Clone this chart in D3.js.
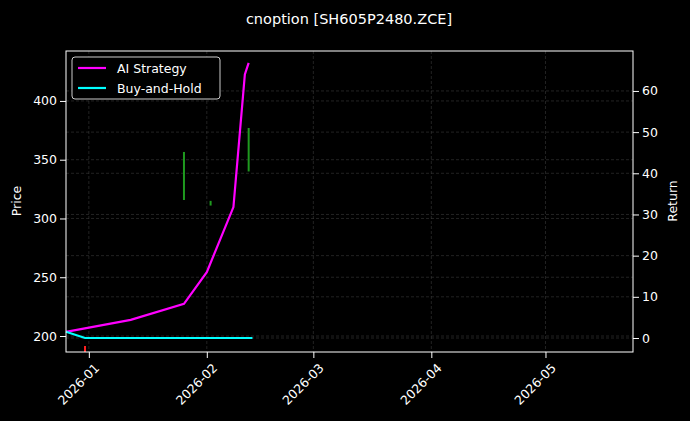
<!DOCTYPE html>
<html><head><meta charset="utf-8">
<script src="https://cdn.jsdelivr.net/npm/d3@7"></script>
<style>body{margin:0;background:#000}text{font-family:"DejaVu Sans",sans-serif}</style>
</head><body><div id="div1"></div>
<script>
// datos de la estrategia (retorno %) y buy-and-hold
var stratDates = ["2025-12-26","2026-01-12","2026-01-26","2026-02-01","2026-02-08","2026-02-11","2026-02-12"]
var stratReturn = [1.5, 4.4, 8.3, 16, 31.8, 64, 66.8]
var holdDates = ["2025-12-26","2025-12-31","2026-02-13"]
var holdReturn = [1.5, 0, 0]
// velas: fecha, apertura, cierre
var candleDates = ["2025-12-31","2026-01-26","2026-02-02","2026-02-12"]
var candleOpen = [191.5, 315.7, 311, 340]
var candleClose = [186.4, 356.6, 315, 377]
var xTicks = ["2026-01","2026-02","2026-03","2026-04","2026-05"]
var priceTicks = [200, 250, 300, 350, 400]
var returnTicks = [0, 10, 20, 30, 40, 50, 60]

var width = 690, height = 421
var L = 66, R = 633, T = 51, B = 352
var p = d3.timeParse("%Y-%m-%d")

var svg = d3.select("#div1").append("svg").attr("width", width).attr("height", height)
            .style("background", "#000")

var x = d3.scaleTime().domain([p("2025-12-26"), p("2026-05-24")]).range([L, R])
var yP = d3.scaleLinear().domain([186.4, 442.5]).range([B, T])
var yR = d3.scaleLinear().domain([-3.4, 69.7]).range([B, T])

// rejilla
var grid = svg.append("g").attr("stroke", "#444").attr("stroke-dasharray", "3,2").attr("stroke-width", 0.5)
xTicks.forEach(t => grid.append("line").attr("x1", x(p(t + "-01"))).attr("x2", x(p(t + "-01"))).attr("y1", T).attr("y2", B))
priceTicks.forEach(t => grid.append("line").attr("x1", L).attr("x2", R).attr("y1", yP(t)).attr("y2", yP(t)))
returnTicks.forEach(t => grid.append("line").attr("x1", L).attr("x2", R).attr("y1", yR(t)).attr("y2", yR(t)))

// velas
candleDates.forEach((d, i) => {
    svg.append("line").attr("x1", x(p(d))).attr("x2", x(p(d)))
       .attr("y1", yP(candleOpen[i])).attr("y2", yP(candleClose[i]))
       .attr("stroke", candleClose[i] >= candleOpen[i] ? "#1f9a1f" : "#ff2020").attr("stroke-width", 2)
})

// lineas
var line = d3.line().x(d => x(d[0])).y(d => yR(d[1]))
svg.append("path").attr("d", line(stratDates.map((d, i) => [p(d), stratReturn[i]])))
   .attr("fill", "none").attr("stroke", "#ff00ff").attr("stroke-width", 2.2)
svg.append("path").attr("d", line(holdDates.map((d, i) => [p(d), holdReturn[i]])))
   .attr("fill", "none").attr("stroke", "#00ffff").attr("stroke-width", 2.2)

// marco
svg.append("rect").attr("x", L).attr("y", T).attr("width", R - L).attr("height", B - T)
   .attr("fill", "none").attr("stroke", "#fff").attr("stroke-width", 1)

// ejes
var ax = svg.append("g").attr("transform", `translate(0,${B})`)
    .call(d3.axisBottom(x).tickValues(xTicks.map(t => p(t + "-01"))).tickFormat(d3.timeFormat("%Y-%m")).tickSizeOuter(0))
ax.selectAll("text").attr("y", 0).attr("dy", 0).attr("transform", "translate(4,10) rotate(-45)")
  .style("text-anchor", "end").attr("dominant-baseline", "hanging")
var ayl = svg.append("g").attr("transform", `translate(${L},0)`).call(d3.axisLeft(yP).tickValues(priceTicks).tickSizeOuter(0))
var ayr = svg.append("g").attr("transform", `translate(${R},0)`).call(d3.axisRight(yR).tickValues(returnTicks).tickSizeOuter(0))
;[ax, ayl, ayr].forEach(a => {
    a.select(".domain").remove()
    a.selectAll("line").attr("stroke", "#fff")
    a.selectAll("text").attr("fill", "#fff").style("font-size", "12.5px")
})

// titulos
svg.append("text").attr("x", 349).attr("y", 24).attr("text-anchor", "middle").attr("fill", "#fff")
   .style("font-size", "14.5px").text("cnoption [SH605P2480.ZCE]")
svg.append("text").attr("transform", "translate(21,201) rotate(-90)").attr("text-anchor", "middle")
   .attr("fill", "#fff").style("font-size", "12.5px").text("Price")
svg.append("text").attr("transform", "translate(677,201) rotate(-90)").attr("text-anchor", "middle")
   .attr("fill", "#fff").style("font-size", "12.5px").text("Return")

// leyenda
var leg = svg.append("g").attr("transform", "translate(72,57)")
leg.append("rect").attr("width", 148).attr("height", 42).attr("rx", 3).attr("fill", "#000")
   .attr("stroke", "#ccc").attr("stroke-width", 1)
;[["AI Strategy", "#ff00ff"], ["Buy-and-Hold", "#00ffff"]].forEach((d, i) => {
    leg.append("line").attr("x1", 6).attr("x2", 34).attr("y1", 11 + i * 20).attr("y2", 11 + i * 20)
       .attr("stroke", d[1]).attr("stroke-width", 2.2)
    leg.append("text").attr("x", 45).attr("y", 15.5 + i * 20).attr("fill", "#fff").style("font-size", "12.5px").text(d[0])
})
</script></body></html>
